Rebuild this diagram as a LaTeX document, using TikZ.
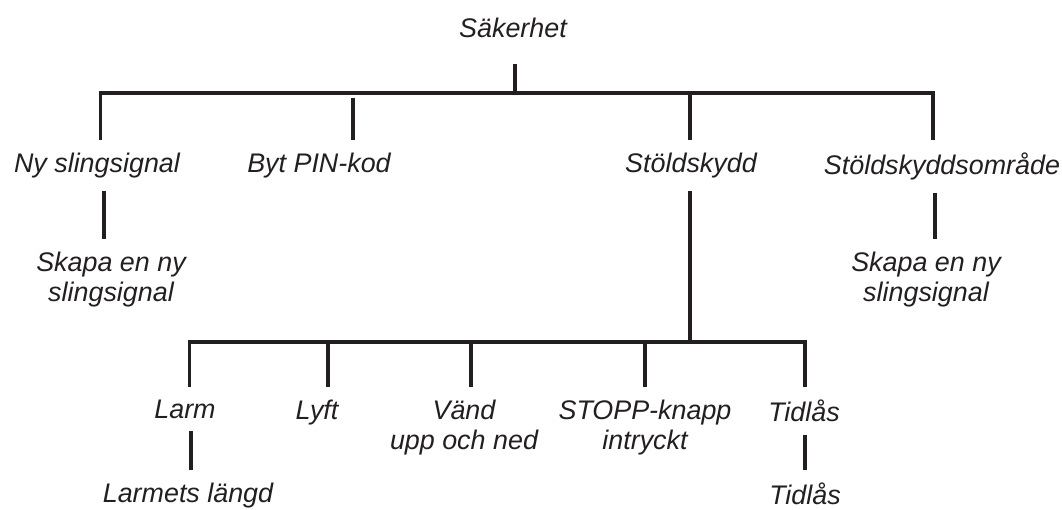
\documentclass[tikz,border=0pt]{standalone}
\usepackage{fontspec}
\setmainfont{Liberation Sans}
\definecolor{ink}{HTML}{231F20}
\tikzset{
  menu/.style={font=\fontsize{15.3pt}{17pt}\selectfont\itshape, text=ink,
    align=center, inner xsep=2pt, inner ysep=0.25cm, anchor=north},
  link/.style={draw=ink, line width=1.9pt},
}
\begin{document}
\begin{tikzpicture}
    \useasboundingbox (0,0) rectangle (21.24,10.20);
    % menu items
    \node[menu] (root) at (10.26,10.10) {Säkerhet};
    \node[menu] (ny) at (1.94,7.40) {Ny slingsignal};
    \node[menu] (pin) at (6.38,7.40) {Byt PIN-kod};
    \node[menu] (stold) at (13.82,7.40) {Stöldskydd};
    \node[menu] (omr) at (18.84,7.40) {Stöldskyddsområde};
    \node[menu] (skapa1) at (2.22,5.42) {Skapa en ny\\slingsignal};
    \node[menu] (skapa2) at (18.52,5.42) {Skapa en ny\\slingsignal};
    \node[menu] (larm) at (3.70,2.46) {Larm};
    \node[menu] (lyft) at (6.34,2.46) {Lyft};
    \node[menu] (vand) at (9.28,2.46) {Vänd\\upp och ned};
    \node[menu] (stopp) at (12.90,2.46) {STOPP-knapp\\intryckt};
    \node[menu] (tid) at (16.08,2.46) {Tidlås};
    \node[menu] (langd) at (3.76,0.80) {Larmets längd};
    \node[menu] (tid2) at (16.10,0.80) {Tidlås};
    % bar points
    \coordinate (b-root) at (10.30,8.34);
    \coordinate (b-ny) at (2.01,8.34);
    \coordinate (b-pin) at (7.06,8.34);
    \coordinate (b-stold) at (13.80,8.34);
    \coordinate (b-omr) at (18.66,8.34);
    \coordinate (c-stold) at (13.80,3.36);
    \coordinate (c-larm) at (3.79,3.36);
    \coordinate (c-lyft) at (6.56,3.36);
    \coordinate (c-vand) at (9.42,3.36);
    \coordinate (c-stopp) at (12.90,3.36);
    \coordinate (c-tid) at (16.10,3.36);
    % top level
    \draw[link, shorten <=0.27cm] (b-root |- root.south) -- (b-root);
    \draw[link] (b-ny |- ny.north) -- (b-ny) -- (b-omr) -- (b-omr |- omr.north);
    \draw[link] ([yshift=-0.1cm]b-pin) -- (b-pin |- pin.north);
    \draw[link] (b-stold) -- (b-stold |- stold.north);
    \draw[link] ([xshift=0.14cm]ny.south) -- ([xshift=0.14cm]ny.south |- skapa1.north);
    \draw[link] ([xshift=-0.14cm]omr.south) -- ([xshift=-0.14cm]omr.south |- skapa2.north);
    % stöldskydd
    \draw[link] (stold.south -| c-stold) -- (c-stold);
    \draw[link] (c-larm |- larm.north) -- (c-larm) -- (c-tid) -- (c-tid |- tid.north);
    \draw[link] (c-lyft) -- (c-lyft |- lyft.north);
    \draw[link] (c-vand) -- (c-vand |- vand.north);
    \draw[link] (c-stopp) -- (c-stopp |- stopp.north);
    \draw[link] ([xshift=0.12cm]larm.south) -- ([xshift=0.12cm]larm.south |- langd.north);
    \draw[link] (tid.south -| c-tid) -- (c-tid |- tid2.north);
\end{tikzpicture}
\end{document}
